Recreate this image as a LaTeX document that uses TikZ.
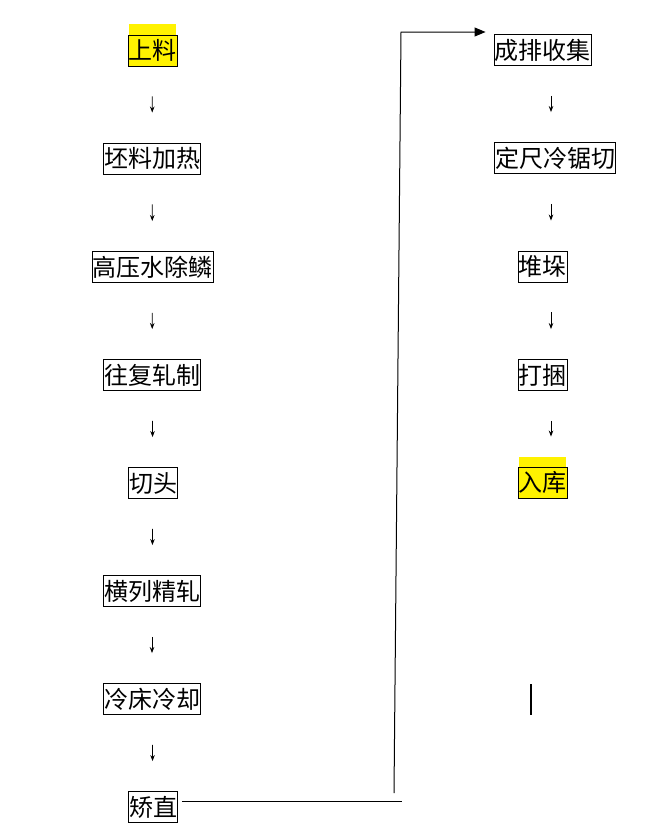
\documentclass[tikz,border=0pt]{standalone}
\usepackage{fontspec}
\newfontfamily\cjk{Noto Sans CJK SC}
\usetikzlibrary{arrows.meta}

\tikzset{
  stepbox/.style={draw, line width=0.9pt, inner xsep=0.5pt, inner ysep=0pt,
    minimum height=31pt, font=\cjk\fontsize{24}{24}\selectfont},
  hilite/.style={stepbox, fill=yellow},
  flowarrow/.style={-{Stealth[length=6pt,width=4.5pt]}, line width=0.8pt,
    shorten <=30pt, shorten >=30pt},
  linkline/.style={line width=1pt},
}

\begin{document}
\begin{tikzpicture}[x=1pt, y=-1pt]
\useasboundingbox (0,0) rectangle (648,835);

% left column
\node[hilite] (sl) at (152.5, 50.5) {上料};
\node[stepbox] (pl) at (152, 158.5) {坯料加热};
\node[stepbox] (gy) at (152.5, 267) {高压水除鳞};
\node[stepbox] (wf) at (152, 375) {往复轧制};
\node[stepbox] (qt) at (153, 483) {切头};
\node[stepbox] (hl) at (152, 591) {横列精轧};
\node[stepbox] (lc) at (152, 699) {冷床冷却};
\node[stepbox] (jz) at (153, 807) {矫直};

\fill[yellow] ([xshift=1pt]sl.north west) rectangle ([xshift=-1pt,yshift=11pt]sl.north east);

\draw[flowarrow] (sl) -- (pl);
\draw[flowarrow] (pl) -- (gy);
\draw[flowarrow] (gy) -- (wf);
\draw[flowarrow] (wf) -- (qt);
\draw[flowarrow] (qt) -- (hl);
\draw[flowarrow] (hl) -- (lc);
\draw[flowarrow] (lc) -- (jz);

% right column
\node[stepbox] (cp) at (542.5, 50) {成排收集};
\node[stepbox] (dc) at (555, 158) {定尺冷锯切};
\node[stepbox] (dd) at (542.5, 266.5) {堆垛};
\node[stepbox] (dk) at (542.5, 375) {打捆};
\node[hilite] (rk) at (542.5, 482.5) {入库};

\fill[yellow] ([xshift=1pt]rk.north west) rectangle ([xshift=-1pt,yshift=10pt]rk.north east);

\coordinate (ax) at (551, 0);
\draw[flowarrow] (cp.south -| ax) -- (dc.north -| ax);
\draw[flowarrow] (dc.south -| ax) -- (dd.north -| ax);
\draw[flowarrow] (dd.south -| ax) -- (dk.north -| ax);
\draw[flowarrow] (dk.south -| ax) -- (rk.north -| ax);

% link between the columns
\coordinate (c1) at (402, 801);
\coordinate (c2) at (394, 793);
\coordinate (c3) at (401, 32);
\draw[linkline, shorten <=4pt] ([yshift=6pt]jz.east) -- (c1);
\draw[linkline, -{Triangle[length=11pt,width=9pt]}, shorten >=8pt]
  (c2) -- (c3) -- ([yshift=18pt]cp.west);

\coordinate (v1) at (531, 684);
\coordinate (v2) at (531, 715);
\draw[line width=1.5pt] (v1) -- (v2);
\end{tikzpicture}
\end{document}
